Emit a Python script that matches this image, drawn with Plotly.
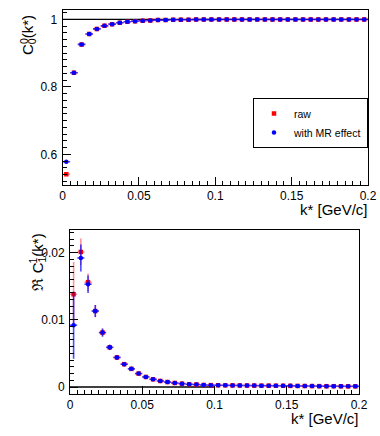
import plotly.graph_objects as go

# ---------------- data ----------------
k_centers = [0.0025 + 0.005 * i for i in range(40)]
k_halfwidth = [0.0025] * 40

c00_raw = [0.541, 0.842, 0.926, 0.957, 0.972, 0.981, 0.986, 0.990, 0.993, 0.995,
           0.996, 0.997, 0.998, 0.998, 0.999, 0.999, 0.999, 0.9995, 0.9995, 0.9995,
           0.9997, 0.9997, 0.9998, 0.9998, 0.9998, 0.9999, 0.9999, 0.9999, 0.9999, 0.9999,
           1.0, 1.0, 1.0, 1.0, 1.0, 1.0, 1.0, 1.0, 1.0, 1.0]
c00_mr = [0.578, 0.842, 0.926, 0.957, 0.972, 0.981, 0.986, 0.990, 0.993, 0.995,
          0.996, 0.997, 0.998, 0.998, 0.999, 0.999, 0.999, 0.9995, 0.9995, 0.9995,
          0.9997, 0.9997, 0.9998, 0.9998, 0.9998, 0.9999, 0.9999, 0.9999, 0.9999, 0.9999,
          1.0, 1.0, 1.0, 1.0, 1.0, 1.0, 1.0, 1.0, 1.0, 1.0]
c00_err = [0.004, 0.002, 0.0015, 0.001, 0.001] + [0.0007] * 35

rc11_raw = [0.0138, 0.0201, 0.0156, 0.0113, 0.0081, 0.0059, 0.0044, 0.0034, 0.0027, 0.0020,
            0.0015, 0.00115, 0.0009, 0.00074, 0.0006, 0.0005, 0.0004, 0.00037, 0.0003, 0.00028,
            0.00026, 0.00025, 0.00024, 0.00023, 0.00022, 0.00021, 0.0002, 0.0002, 0.00019, 0.00018,
            0.00017, 0.00016, 0.00015, 0.00014, 0.00013, 0.00012, 0.00012, 0.00011, 0.0001, 0.0001]
rc11_raw_err = [0.0048, 0.0020, 0.0013, 0.0009, 0.0006, 0.0004, 0.0003, 0.0003, 0.0002, 0.0002] + [0.00012] * 30
rc11_mr = [0.0092, 0.0192, 0.0153, 0.0113, 0.0081, 0.0059, 0.0044, 0.0034, 0.0027, 0.0020,
           0.0015, 0.00115, 0.0009, 0.00074, 0.0006, 0.0005, 0.0004, 0.00037, 0.0003, 0.00028,
           0.00026, 0.00025, 0.00024, 0.00023, 0.00022, 0.00021, 0.0002, 0.0002, 0.00019, 0.00018,
           0.00017, 0.00016, 0.00015, 0.00014, 0.00013, 0.00012, 0.00012, 0.00011, 0.0001, 0.0001]
rc11_mr_err = [0.0050, 0.0020, 0.0013, 0.0009, 0.0006, 0.0004, 0.0003, 0.0003, 0.0002, 0.0002] + [0.00012] * 30

series_names = ["raw", "with MR effect"]
x_ticks = [0, 0.05, 0.1, 0.15, 0.2]
x_ticklabels = ["0", "0.05", "0.1", "0.15", "0.2"]
top_yticks = [0.6, 0.8, 1.0]
top_yticklabels = ["0.6", "0.8", "1"]
bot_yticks = [0, 0.01, 0.02]
bot_yticklabels = ["0", "0.01", "0.02"]

ref_top = (0.0, 0.2, 1.0)   # x0, x1, y of reference line in top panel
ref_bot = (0.0, 0.1, 0.0)   # x0, x1, y of reference line in bottom panel

# ---------------- styles ----------------
RED_M = "rgb(255,0,0)"
RED_E = "rgba(255,40,60,0.5)"
BLUE_M = "rgb(0,0,255)"
BLUE_E = "rgba(0,0,255,0.7)"
FONT = "Liberation Sans, Arial, Helvetica, sans-serif"

fig = go.Figure()


def add_series(x, y, ex, ey, name, mcol, ecol, symbol, xa, ya, showlegend):
    fig.add_trace(go.Scatter(
        x=x, y=y, mode="markers", name=name, showlegend=showlegend,
        xaxis=xa, yaxis=ya,
        marker=dict(color=mcol, size=4.5, symbol=symbol, line=dict(width=0)),
        error_x=dict(type="data", array=ex, visible=True, width=0, thickness=1.6, color=ecol),
        error_y=dict(type="data", array=ey, visible=True, width=0, thickness=1.6, color=ecol),
    ))


add_series(k_centers, c00_raw, k_halfwidth, c00_err, series_names[0], RED_M, RED_E, "square", "x", "y", True)
add_series(k_centers, c00_mr, k_halfwidth, c00_err, series_names[1], BLUE_M, BLUE_E, "circle", "x", "y", True)
add_series(k_centers, rc11_raw, k_halfwidth, rc11_raw_err, series_names[0], RED_M, RED_E, "square", "x2", "y2", False)
add_series(k_centers, rc11_mr, k_halfwidth, rc11_mr_err, series_names[1], BLUE_M, BLUE_E, "circle", "x2", "y2", False)

W, H = 380, 436


def xdom(a, b):
    return [a / W, b / W]


def ydom(top, bottom):
    return [1 - bottom / H, 1 - top / H]


def px_ann(text, x, y, xanchor, yanchor, size, angle=0):
    return dict(text=text, xref="paper", yref="paper", x=x / W, y=1 - y / H,
                xanchor=xanchor, yanchor=yanchor, textangle=angle, showarrow=False,
                font=dict(family=FONT, size=size, color="black"))


common_x = dict(range=[0, 0.2], tickvals=x_ticks, ticktext=x_ticklabels, ticks="inside",
                ticklen=8, tickwidth=1, tickcolor="black", showline=True, linecolor="black",
                linewidth=1, mirror=True, showgrid=False, zeroline=False, automargin=False,
                tickfont=dict(family=FONT, size=12, color="black"),
                minor=dict(dtick=0.005, ticks="inside", ticklen=4, tickcolor="black", showgrid=False))
common_y = dict(ticks="inside", ticklen=8, tickwidth=1, tickcolor="black", showline=True,
                linecolor="black", linewidth=1, mirror=True, showgrid=False, zeroline=False,
                automargin=False,
                tickfont=dict(family=FONT, size=12, color="black"), ticklabelstandoff=2)

fig.update_layout(
    width=W, height=H,
    margin=dict(l=0, r=0, t=0, b=0, autoexpand=False),
    paper_bgcolor="white", plot_bgcolor="white",
    font=dict(family=FONT, color="black"),
    xaxis=dict(domain=xdom(62.5, 368), anchor="y", **common_x),
    yaxis=dict(domain=ydom(10, 185), anchor="x", range=[0.509, 1.028],
               tickvals=top_yticks, ticktext=top_yticklabels,
               minor=dict(dtick=0.02, ticks="inside", ticklen=4, tickcolor="black", showgrid=False),
               **common_y),
    xaxis2=dict(domain=xdom(70, 359), anchor="y2", **common_x),
    yaxis2=dict(domain=ydom(230, 394), anchor="x2", range=[-0.00104, 0.02336],
                tickvals=bot_yticks, ticktext=bot_yticklabels,
                minor=dict(dtick=0.001, ticks="inside", ticklen=4, tickcolor="black", showgrid=False),
                **common_y),
    legend=dict(x=368 / W, y=1 - 98 / H, xanchor="right", yanchor="top",
                bordercolor="black", borderwidth=1, bgcolor="white",
                font=dict(family=FONT, size=10.5, color="black"),
                itemwidth=30, tracegroupgap=0),
    shapes=[
        dict(type="line", xref="x", yref="y", x0=ref_top[0], x1=ref_top[1], y0=ref_top[2], y1=ref_top[2],
             line=dict(color="black", width=1.3), layer="below"),
        dict(type="line", xref="x2", yref="y2", x0=ref_bot[0], x1=ref_bot[1], y0=ref_bot[2], y1=ref_bot[2],
             line=dict(color="black", width=1.3), layer="below"),
    ],
    annotations=[
        px_ann("k* [GeV/c]", 370, 199, "right", "top", 15),
        px_ann("k* [GeV/c]", 361, 408, "right", "top", 15),
        # top y title: C with stacked sub/sup 0
        px_ann("C<sub>0</sub>(k*)", 29, 13, "center", "top", 15, -90),
        px_ann("0", 23.5, 41.5, "center", "middle", 10.5, -90),
        # bottom y title: Re C with stacked sub/sup 1
        px_ann("ℜ C<sub>1</sub>(k*)", 38, 232, "center", "top", 15, -90),
        px_ann("1", 32.5, 261, "center", "middle", 10.5, -90),
    ],
)

fig.write_html("out.html", config={"displayModeBar": False},
               post_script="document.body.style.margin='0';document.body.style.padding='0';"
                           "document.body.style.overflow='hidden';")
